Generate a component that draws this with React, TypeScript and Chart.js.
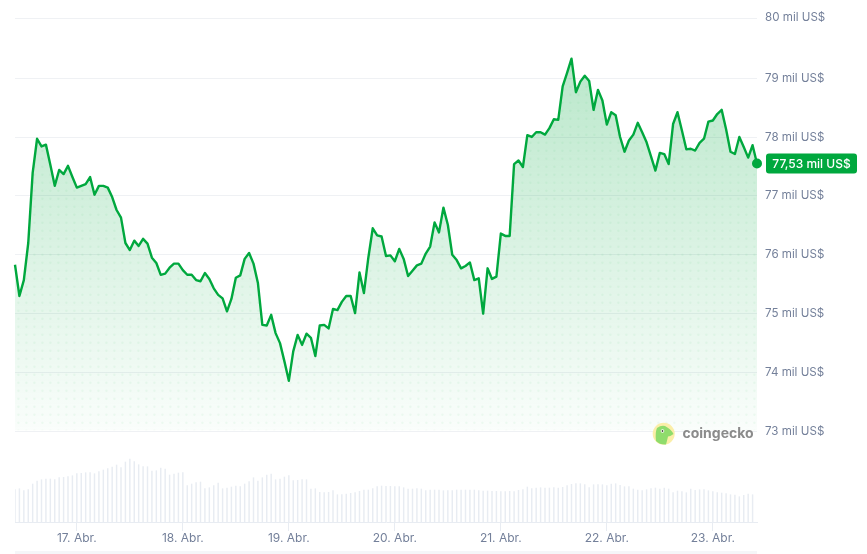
import { Chart, registerables } from 'chart.js';
import React, { useEffect, useRef } from 'react';

Chart.register(...registerables);

const prices = [
  75.81, 75.28, 75.55, 76.18, 77.37, 77.95, 77.82, 77.85, 77.51, 77.15, 77.42, 77.35, 77.49, 77.3, 77.12, 77.15, 77.18, 77.3, 77.0, 77.15,
  77.15, 77.12, 76.96, 76.74, 76.61, 76.18, 76.06, 76.22, 76.13, 76.25, 76.17, 75.93, 75.84, 75.64, 75.66, 75.76, 75.83, 75.83, 75.72, 75.64,
  75.64, 75.55, 75.53, 75.67, 75.57, 75.41, 75.3, 75.24, 75.02, 75.23, 75.59, 75.63, 75.91, 76.01, 75.83, 75.5, 74.79, 74.78, 74.96, 74.65,
  74.48, 74.17, 73.84, 74.34, 74.62, 74.45, 74.64, 74.57, 74.26, 74.78, 74.79, 74.73, 75.06, 75.04, 75.18, 75.28, 75.28, 74.99, 75.68, 75.33,
  75.93, 76.43, 76.31, 76.29, 75.96, 75.97, 75.87, 76.08, 75.91, 75.62, 75.71, 75.8, 75.83, 76.0, 76.12, 76.53, 76.36, 76.78, 76.49, 75.98,
  75.89, 75.75, 75.79, 75.85, 75.55, 75.58, 74.98, 75.75, 75.57, 75.61, 76.34, 76.3, 76.3, 77.52, 77.58, 77.47, 78.01, 77.98, 78.06, 78.06,
  78.02, 78.13, 78.28, 78.27, 78.84, 79.07, 79.31, 78.74, 78.92, 79.02, 78.93, 78.44, 78.78, 78.6, 78.19, 78.4, 78.35, 77.98, 77.73, 77.92,
  78.02, 78.22, 78.06, 77.89, 77.65, 77.41, 77.71, 77.69, 77.52, 78.2, 78.4, 78.09, 77.77, 77.78, 77.75, 77.88, 77.95, 78.24, 78.26, 78.37,
  78.44, 78.11, 77.73, 77.69, 77.98, 77.81, 77.63, 77.84, 77.53,
];

const volumes = [
  32.3, 33.3, 31.3, 32.3, 38, 41, 42.3, 43, 43, 42.3, 44.3, 44.7, 45.3, 46.3, 48.3, 48.7, 49.3, 49.3, 48.3, 50.3,
  52, 53.3, 55, 57, 54.3, 60, 63, 60.3, 57.3, 55.3, 55.3, 51, 51.3, 54, 53, 47, 48, 49, 49.3, 36.3,
  38, 39.3, 40, 33.3, 34.3, 36.3, 39, 33.3, 34, 35, 36, 35.3, 38, 40.3, 44.3, 41, 44.3, 47, 48, 42.3,
  43, 45, 46.3, 41.3, 41.7, 42.3, 42.3, 33, 33.3, 29.7, 29.3, 29.7, 31.3, 27.3, 27.3, 28, 28.7, 29.3, 30.7, 32,
  32, 33.3, 35.3, 36, 35.7, 35.7, 35.3, 35.3, 34.3, 33, 33, 33.3, 33, 31.3, 32, 32, 32, 31.3, 31.3, 31.3,
  32, 32, 32, 32, 32, 31.3, 31, 31, 30.7, 30.7, 30.3, 30.3, 30.7, 30.3, 31.7, 32.3, 35, 33.3, 34, 34.3,
  34, 34, 34.3, 34, 34.7, 36.3, 37.7, 38.3, 38.3, 37.3, 34.3, 37.3, 37.3, 37.3, 36.3, 38, 38.3, 36.7, 35.3, 35.3,
  33, 32, 31.3, 32.3, 33.3, 34, 33, 34, 33, 29.3, 31, 30.3, 29.3, 33, 31.7, 32.3, 32.3, 31.3, 30.3, 29.3,
  29, 28.3, 27.3, 27, 25.3, 26.7, 28, 27.3, null,
];

const priceTicks = [73, 74, 75, 76, 77, 78, 79, 80];
const dayTickIndexes = [14, 38, 62, 86, 110, 134, 158];
const dayLabels = ['17. Abr.', '18. Abr.', '19. Abr.', '20. Abr.', '21. Abr.', '22. Abr.', '23. Abr.'];
const lastPriceLabel = '77,53 mil US$';

const GREEN = '#00a83e';
const AXIS_TEXT = '#74809a';
const FONT = 'Inter, "Noto Sans", sans-serif';

// light dots that sit on top of the area fill
const makeDotPattern = (ctx: CanvasRenderingContext2D) => {
  const tile = document.createElement('canvas');
  tile.width = 8;
  tile.height = 8;
  const t = tile.getContext('2d')!;
  t.fillStyle = 'rgba(0, 168, 62, 0.05)';
  t.beginPath();
  t.arc(2.4, 6.7, 1.25, 0, Math.PI * 2);
  t.fill();
  return ctx.createPattern(tile, 'repeat');
};

const overlayPlugin = {
  id: 'overlay',
  afterDraw(chart: any) {
    const { ctx, chartArea, scales } = chart;

    // footer strip under the x axis
    ctx.save();
    ctx.fillStyle = '#f5f6f8';
    ctx.fillRect(chartArea.left, 551, chartArea.width, 3);

    // badge with the last price
    const y = scales.yPrice.getPixelForValue(prices[prices.length - 1]);
    ctx.fillStyle = GREEN;
    ctx.beginPath();
    ctx.roundRect(766, y - 10, 91, 20, 3);
    ctx.fill();
    ctx.fillStyle = '#ffffff';
    ctx.font = `500 12px ${FONT}`;
    ctx.textAlign = 'center';
    ctx.textBaseline = 'middle';
    ctx.fillText(lastPriceLabel, 811.5, y + 0.5);

    // coingecko logo
    ctx.fillStyle = '#fbeea8';
    ctx.beginPath();
    ctx.arc(663.7, 433.7, 11, 0, Math.PI * 2);
    ctx.fill();
    ctx.fillStyle = '#8fdc6c';
    ctx.beginPath();
    ctx.moveTo(656, 441);
    ctx.quadraticCurveTo(655, 432, 657, 428);
    ctx.quadraticCurveTo(661, 425, 665, 426);
    ctx.quadraticCurveTo(671, 429, 673.5, 434);
    ctx.quadraticCurveTo(670, 436.5, 668, 436.5);
    ctx.quadraticCurveTo(667, 441, 666, 444.5);
    ctx.quadraticCurveTo(660, 445, 656, 441);
    ctx.fill();
    ctx.fillStyle = '#ffffff';
    ctx.beginPath();
    ctx.arc(662.5, 431, 1.8, 0, Math.PI * 2);
    ctx.fill();
    ctx.fillStyle = '#46503c';
    ctx.beginPath();
    ctx.arc(662.5, 431, 0.9, 0, Math.PI * 2);
    ctx.fill();

    ctx.fillStyle = '#8b8b8b';
    ctx.font = `700 14px ${FONT}`;
    ctx.textAlign = 'left';
    ctx.fillText('coingecko', 682.5, 434);
    ctx.restore();
  },
};

const App: React.FC = () => {
  const canvasRef = useRef<HTMLCanvasElement | null>(null);

  useEffect(() => {
    const canvas = canvasRef.current;
    if (!canvas) return;

    const chart = new Chart(canvas, {
      data: {
        labels: prices.map((_, i) => i),
        datasets: [
          {
            type: 'bar',
            data: volumes,
            yAxisID: 'yVolume',
            backgroundColor: '#e8ecf2',
            barThickness: 0.8,
            order: 3,
          },
          {
            type: 'line',
            data: prices,
            yAxisID: 'yPrice',
            borderWidth: 0,
            pointRadius: 0,
            fill: { value: 73 },
            backgroundColor: makeDotPattern(canvas.getContext('2d')!),
            order: 2,
          },
          {
            type: 'line',
            data: prices,
            yAxisID: 'yPrice',
            borderColor: GREEN,
            borderWidth: 2.4,
            borderJoinStyle: 'round',
            tension: 0,
            clip: false,
            fill: { value: 73 },
            backgroundColor: (c: any) => {
              const { ctx, chartArea, scales } = c.chart;
              if (!chartArea) return 'transparent';
              const top = scales.yPrice.getPixelForValue(79.3);
              const bottom = scales.yPrice.getPixelForValue(73);
              if (!Number.isFinite(top) || !Number.isFinite(bottom)) return 'transparent';
              const g = ctx.createLinearGradient(0, top, 0, bottom);
              g.addColorStop(0, 'rgba(0, 168, 62, 0.27)');
              g.addColorStop(1, 'rgba(0, 168, 62, 0.02)');
              return g;
            },
            pointRadius: (c: any) => (c.dataIndex === prices.length - 1 ? 5 : 0),
            pointBackgroundColor: GREEN,
            pointBorderWidth: 0,
            order: 1,
          },
        ],
      } as any,
      options: {
        animation: false,
        responsive: false,
        events: [],
        layout: { padding: { left: 15, top: 18 } },
        plugins: { legend: { display: false }, tooltip: { enabled: false } },
        scales: {
          x: {
            type: 'category',
            offset: false,
            afterBuildTicks: (scale: any) => {
              scale.ticks = dayTickIndexes.map((value) => ({ value }));
            },
            afterFit: (scale: any) => {
              scale.height = 32;
            },
            border: { color: '#e8ecf2' },
            grid: { offset: false, drawOnChartArea: false, color: '#e8ecf2', tickLength: 9 },
            ticks: {
              autoSkip: false,
              maxRotation: 0,
              padding: 0,
              color: AXIS_TEXT,
              font: { family: FONT, size: 12 },
              callback: (value: any) => dayLabels[dayTickIndexes.indexOf(value)],
            },
          },
          // gridlines and labels; the reference draws them about 1.5px under the line's own mapping
          y: {
            position: 'right',
            min: 71.454,
            max: 80.025,
            afterBuildTicks: (scale: any) => {
              scale.ticks = priceTicks.map((value) => ({ value: value === 80 ? scale.max : value }));
            },
            afterFit: (scale: any) => {
              scale.width = 110;
            },
            border: { display: false },
            grid: { color: '#eff1f4', drawTicks: false },
            ticks: {
              padding: 8,
              color: AXIS_TEXT,
              font: { family: FONT, size: 11.6 },
              callback: (value: any) => `${Math.floor(value)} mil US$`,
            },
          },
          yPrice: { display: false, min: 71.443, max: 80 },
          yVolume: { display: false, min: 0, max: 504 },
        },
      } as any,
      plugins: [overlayPlugin],
    });

    return () => {
      chart.destroy();
    };
  }, []);

  return (
    <div style={{ position: 'fixed', left: 0, top: 0, width: 867, height: 554, background: '#fff' }}>
      <canvas ref={canvasRef} width={867} height={554} style={{ display: 'block' }} />
    </div>
  );
};

export default App;
